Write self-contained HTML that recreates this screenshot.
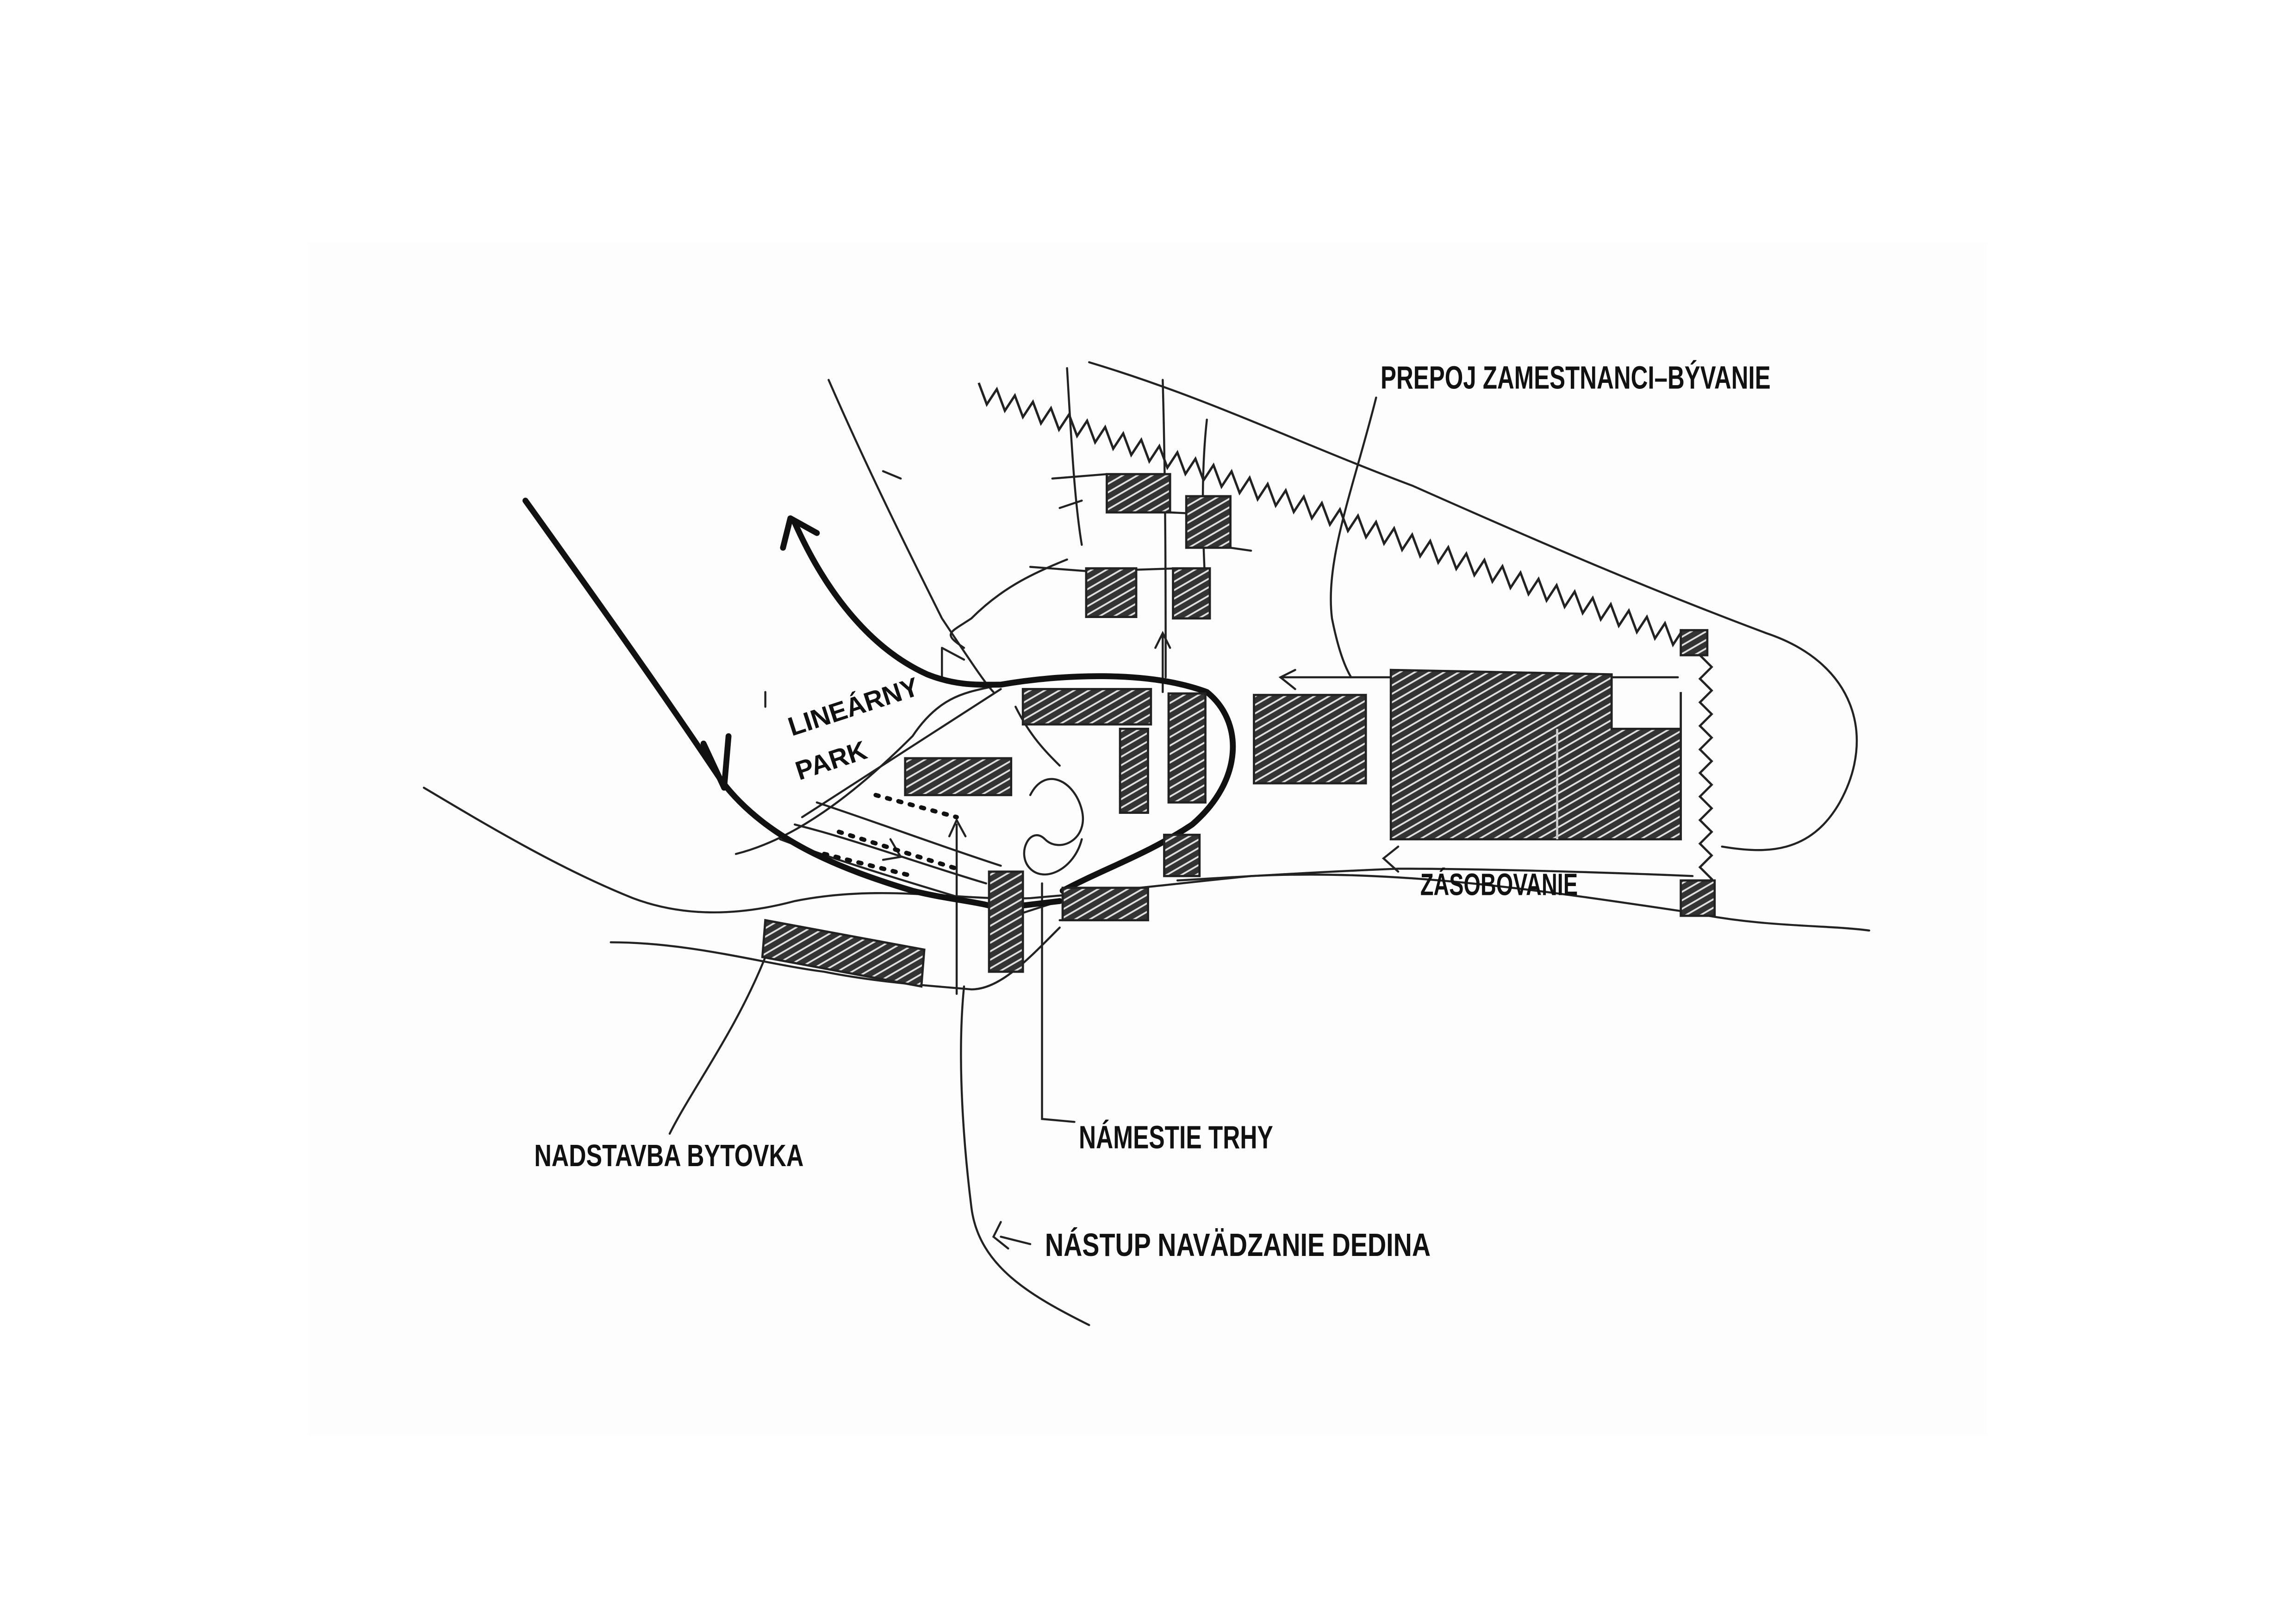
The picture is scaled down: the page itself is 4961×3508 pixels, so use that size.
<!DOCTYPE html>
<html><head><meta charset="utf-8"><style>
html,body{margin:0;padding:0;background:#fff;}
svg{display:block;}
text{font-family:"Liberation Sans",sans-serif;font-weight:bold;fill:#111;}
</style></head><body>
<svg width="4961" height="3508" viewBox="0 0 1560 1103" xmlns="http://www.w3.org/2000/svg">
<defs>
<pattern id="h" width="5" height="5" patternUnits="userSpaceOnUse" patternTransform="rotate(60)">
<rect width="5" height="5" fill="#333"/><line x1="1" y1="0" x2="1" y2="5" stroke="#e0e0e0" stroke-width="1.2"/>
</pattern>
</defs>
<rect width="1560" height="1103" fill="#fff"/>
<rect x="210" y="165" width="1140" height="810" fill="#fdfdfd"/>
<g fill="none" stroke="#222" stroke-width="1.4" stroke-linecap="round">
<path d="M740,246 C820,270 880,300 960,330 C1050,370 1120,400 1200,430 C1260,450 1275,500 1250,545 C1230,580 1200,580 1170,575"/>
<path d="M288,535 C330,560 380,590 430,610 C470,625 510,620 540,612 C600,600 650,612 700,610 C760,605 800,600 850,595 C950,590 1050,605 1150,620 C1200,630 1240,628 1270,632"/>
<path d="M415,640 C470,640 520,655 560,660 C600,668 640,670 660,672 C680,672 700,650 720,630"/>
<path d="M563,258 C590,320 620,380 640,420 C660,450 670,465 675,470"/>
<path d="M600,320 L612,325"/>
<path d="M680,465 C660,470 640,470 620,500 C580,540 540,570 500,580"/>
<path d="M640,440 L640,460 M640,440 L655,448"/>
<path d="M725,380 C700,390 680,400 660,420 C645,430 640,430 655,440"/>
<path d="M725,250 C728,300 730,340 735,370 M790,258 C792,330 792,400 792,460 M820,285 C815,330 818,380 820,420"/>
<path d="M715,325 L752,322 M720,345 L735,340 M795,348 L836,350 M836,372 L850,374 M700,385 L740,388 M770,387 L800,386 M797,420 L822,420"/>
<path d="M935,270 C920,330 900,380 905,420 C910,445 915,455 918,460"/>
<path d="M870,460 L1140,460 M880,455 L870,460 L880,468"/>
<path d="M800,598 C850,595 900,592 950,590 C1000,590 1080,592 1150,595 M950,575 L940,583 L950,592"/>
<path d="M540,560 C580,570 620,585 670,600 M530,570 C570,585 620,600 670,615 M555,545 C600,560 640,575 680,588"/>
<path d="M545,555 L680,468 M605,570 L612,582 L600,584"/>
<path d="M655,670 C650,720 655,780 660,820 C665,860 700,880 740,900"/>
<path d="M650,560 L650,675 M645,568 L650,557 L656,568"/>
<path d="M708,600 L708,760 L730,762"/>
<path d="M700,540 C710,520 730,530 735,550 C740,570 720,580 710,570 C700,560 690,580 700,590 C710,600 730,590 735,570"/>
<path d="M690,480 C700,500 710,510 720,520"/>
<path d="M520,650 C500,700 470,740 455,770"/>
<path d="M680,840 L700,845 M680,830 L675,840 L685,848"/>
<path d="M790,430 L790,470 M785,440 L790,430 L795,440"/>
<path d="M720,625 L780,625 M695,620 L720,612"/>
<path d="M520,480 L520,470"/>
</g>
<path d="M665,260 l10,12 l3,-12 l10,12 l3,-12 l10,12 l3,-12 l10,12 l3,-12 l10,12 l3,-12 l10,12 l3,-12 l10,12 l3,-12 l10,12 l3,-12 l10,12 l3,-12 l10,12 l3,-12 l10,12 l3,-12 l10,12 l3,-12 l10,12 l3,-12 l10,12 l3,-12 l10,12 l3,-12 l10,12 l3,-12 l10,12 l3,-12 l10,12 l3,-12 l10,12 l3,-12 l10,12 l3,-12 l10,12 l3,-12 l10,12 l3,-12 l10,12 l3,-12 l10,12 l3,-12 l10,12 l3,-12 l10,12 l3,-12 l10,12 l3,-12 l10,12 l3,-12 l10,12 l3,-12 l10,12 l3,-12 l10,12 l3,-12 l10,12 l3,-12 l10,12 l3,-12 l10,12 l3,-12 l10,12 l3,-12 l10,12 l3,-12 l10,12 l3,-12 l10,12 l3,-12 l10,12 l3,-12" fill="none" stroke="#222" stroke-width="1.6" transform="rotate(19.3 665 260)"/>
<path d="M1155,445 l8,8 l-8,8 l8,8 l-8,8 l8,8 l-8,8 l8,8 l-8,8 l8,8 l-8,8 l8,8 l-8,8 l8,8 l-8,8 l8,8 l-8,8 l8,8 l-8,8 l8,8 l-8,8" fill="none" stroke="#222" stroke-width="1.5"/>
<g fill="none" stroke="#111" stroke-width="4" stroke-linecap="round" stroke-linejoin="round">
<path d="M357,340 C400,400 450,470 490,530 C520,570 570,590 620,605 C640,610 660,612 672,615"/>
<path d="M478,505 L492,535 L495,500"/>
<path d="M540,355 C560,400 590,440 630,458 C650,466 665,465 680,465 C720,458 780,455 820,470 C845,490 845,530 810,560 C780,580 750,590 722,605"/>
<path d="M532,372 L537,352 L555,362"/>
<path d="M695,615 L720,612"/>
</g>
<g fill="none" stroke="#111" stroke-width="3" stroke-dasharray="2 6" stroke-linecap="round">
<path d="M595,540 L650,555"/><path d="M570,565 L650,590"/><path d="M560,580 L620,595"/>
</g>
<g fill="url(#h)" stroke="#222" stroke-width="1.5">
<rect x="752" y="322" width="43" height="26"/>
<rect x="806" y="337" width="30" height="35"/>
<rect x="738" y="386" width="34" height="33"/>
<rect x="797" y="386" width="25" height="34"/>
<rect x="695" y="468" width="87" height="24"/>
<rect x="615" y="515" width="72" height="25"/>
<rect x="761" y="495" width="19" height="57"/>
<rect x="794" y="471" width="25" height="74"/>
<rect x="852" y="472" width="76" height="60"/>
<path d="M945,455 L1095,458 L1095,495 L1142,495 L1142,470 L1142,570 L945,570 Z"/>
<rect x="1142" y="428" width="18" height="17"/>
<rect x="1142" y="598" width="23" height="24"/>
<rect x="791" y="567" width="24" height="28"/>
<rect x="722" y="603" width="58" height="22"/>
<rect x="672" y="592" width="23" height="68"/>
<polygon points="520,625 628,645 626,670 518,650"/>
</g>
<line x1="1058" y1="495" x2="1058" y2="570" stroke="#ccc" stroke-width="1.5"/>
<text x="938" y="264" font-size="22" textLength="265" lengthAdjust="spacingAndGlyphs">PREPOJ ZAMESTNANCI–BÝVANIE</text>
<text x="538" y="500" font-size="18" transform="rotate(-18 538 500)">LINEÁRNY</text>
<text x="543" y="530" font-size="18" transform="rotate(-18 543 530)">PARK</text>
<text x="965" y="608" font-size="21" font-weight="normal" textLength="107" lengthAdjust="spacingAndGlyphs">ZÁSOBOVANIE</text>
<text x="363" y="792" font-size="21" textLength="183" lengthAdjust="spacingAndGlyphs">NADSTAVBA BYTOVKA</text>
<text x="733" y="780" font-size="22" textLength="132" lengthAdjust="spacingAndGlyphs">NÁMESTIE TRHY</text>
<text x="710" y="853" font-size="22" textLength="262" lengthAdjust="spacingAndGlyphs">NÁSTUP NAVÄDZANIE DEDINA</text>
</svg>
</body></html>
